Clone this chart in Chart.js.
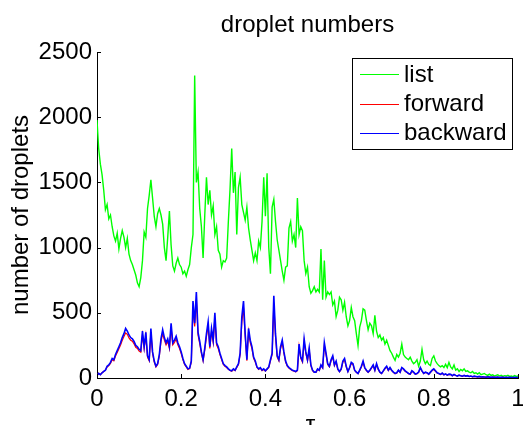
<!DOCTYPE html>
<html>
<head>
<meta charset="utf-8">
<script src="https://cdn.jsdelivr.net/npm/chart.js@4/dist/chart.umd.min.js"></script>
<style>
  html, body { margin: 0; padding: 0; background: #fff; }
  #wrap { width: 523px; height: 425px; }
</style>
</head>
<body>
<div id="wrap"><canvas id="c" width="523" height="425"></canvas></div>
<script>
// Droplet counts sampled every 0.004 in tau (0 .. 1)
const listCounts = [
  1978,1760,1640,1560,1440,1290,1330,1220,1250,1160,1090,
  1050,1110,990,1070,1130,1080,1000,1070,950,900,
  870,830,790,730,700,770,900,1120,1080,1300,
  1400,1520,1380,1240,1160,1260,1300,1250,1180,1000,
  900,1080,1280,1020,860,820,880,920,870,850,
  800,820,780,830,870,1000,1100,2320,1500,1580,
  1300,1160,920,1250,1540,1330,1440,1250,1320,1100,
  1160,980,950,850,900,890,920,1200,1450,1760,
  1420,1580,1100,1460,1540,1330,1270,1210,1310,1150,
  1060,980,900,960,900,1050,1000,1200,1540,1240,
  1570,1000,800,1310,1370,1200,1060,980,900,820,
  750,850,860,1150,1200,1050,1100,1000,1380,1100,
  1160,1130,900,800,850,700,650,670,700,660,
  680,660,990,600,900,620,660,640,660,560,
  590,470,520,620,600,520,580,470,400,440,
  540,470,440,340,250,390,440,530,520,440,
  370,420,400,340,480,360,310,330,290,310,
  260,290,250,210,190,160,135,180,160,190,
  260,180,160,150,140,160,130,110,120,140,
  90,130,220,140,110,130,105,95,150,170,
  130,110,95,85,95,80,105,80,120,85,
  70,100,60,70,50,65,55,70,50,55,
  45,40,50,35,40,30,40,25,30,35,
  25,20,30,20,25,15,20,25,15,20,
  12,18,15,20,12,15,10,18,12,15
];

const forwardCounts = [
  20,35,25,40,50,60,85,95,112,140,132,
  168,196,224,252,290,318,345,335,308,290,
  282,262,235,226,206,198,330,225,325,160,
  132,350,188,122,85,104,168,280,340,290,
  254,282,226,385,254,272,300,254,226,188,
  141,104,85,66,72,122,540,395,600,330,
  264,188,132,216,318,400,226,355,272,460,
  254,226,180,141,104,90,80,66,57,52,
  66,57,80,104,180,430,540,318,132,355,
  272,226,150,122,80,66,76,57,66,52,
  66,80,132,180,570,318,160,132,226,272,
  188,122,90,76,66,57,52,48,57,240,
  150,122,280,188,132,216,95,57,43,43,
  66,57,95,76,250,180,104,85,132,160,
  95,122,66,48,66,122,140,85,48,76,
  112,104,57,43,33,57,85,122,76,57,
  43,57,76,95,57,104,66,43,33,52,
  71,85,57,76,57,43,33,38,57,43,
  76,66,52,43,33,28,52,43,28,33,
  43,76,52,33,43,38,28,43,57,66,
  52,38,33,26,36,24,30,21,28,26,
  17,26,19,14,21,17,13,19,14,17,
  11,14,9,13,11,8,11,7,9,7,
  6,8,6,5,7,5,5,6,4,5,
  5,4,5,3,5,4,3,4,3,4
];

const backwardCounts = [
  20,35,25,40,50,60,90,100,120,150,140,
  180,210,240,270,310,340,380,360,330,310,
  300,280,250,240,220,210,360,240,350,170,
  140,380,200,130,90,110,180,300,370,310,
  270,300,240,420,270,290,320,270,240,200,
  150,110,90,70,75,130,590,420,660,350,
  280,200,140,230,340,430,240,380,290,500,
  270,240,190,150,110,95,85,70,60,55,
  70,60,85,110,190,470,590,340,140,380,
  290,240,160,130,85,70,80,60,70,55,
  70,85,140,190,630,340,170,140,240,290,
  200,130,95,80,70,60,55,50,60,260,
  160,130,300,200,140,230,100,60,45,45,
  70,60,100,80,270,190,110,90,140,170,
  100,130,70,50,70,130,150,90,50,80,
  120,110,60,45,35,60,90,130,80,60,
  45,60,80,100,60,110,70,45,35,55,
  75,90,60,80,60,45,35,40,60,45,
  80,70,55,45,35,30,55,45,30,35,
  45,80,55,35,45,40,30,45,60,70,
  55,40,35,28,38,25,32,22,30,28,
  18,28,20,15,22,18,14,20,15,18,
  12,15,10,14,12,9,12,8,10,8,
  6,9,7,5,8,6,5,7,4,6,
  5,4,6,3,5,4,3,5,3,4
];

const seriesNames = ['list', 'forward', 'backward'];
const seriesColors = ['#00ff00', '#ff0000', '#0000ff'];
const xTicks = [0, 0.2, 0.4, 0.6, 0.8, 1];
const xTickLabels = ['0', '0.2', '0.4', '0.6', '0.8', '1'];
const yTicks = [0, 500, 1000, 1500, 2000, 2500];
const yTickLabels = ['0', '500', '1000', '1500', '2000', '2500'];

const tau = listCounts.map((_, i) => +(i * 0.004).toFixed(3));
const toPoints = arr => arr.map((v, i) => ({ x: tau[i], y: v }));

const FONT = '"Liberation Sans", Arial, sans-serif';

// axis labels, title, inward tick marks and the boxed legend
const decorations = {
  id: 'decorations',
  afterDraw(chart) {
    const ctx = chart.ctx;
    const area = chart.chartArea;
    const xs = chart.scales.x, ys = chart.scales.y;
    ctx.save();
    // inward ticks
    ctx.strokeStyle = '#000';
    ctx.lineWidth = 1;
    ctx.beginPath();
    xTicks.forEach(t => {
      const px = Math.round(xs.getPixelForValue(t)) + 0.5;
      ctx.moveTo(px, area.bottom);
      ctx.lineTo(px, area.bottom - 4);
    });
    yTicks.forEach(t => {
      const py = Math.round(ys.getPixelForValue(t)) + 0.5;
      ctx.moveTo(area.left, py);
      ctx.lineTo(area.left + 4, py);
    });
    ctx.stroke();

    ctx.fillStyle = '#000';
    // title
    ctx.font = '24px ' + FONT;
    ctx.textAlign = 'center';
    ctx.textBaseline = 'alphabetic';
    ctx.fillText('droplet numbers', (area.left + area.right) / 2, 32);
    // x label
    ctx.textBaseline = 'top';
    ctx.fillText('τ', (area.left + area.right) / 2 + 3, 413);
    // y label
    ctx.save();
    ctx.translate(21, (area.top + area.bottom) / 2);
    ctx.rotate(-Math.PI / 2);
    ctx.textBaseline = 'middle';
    ctx.fillText('number of droplets', 0, 0);
    ctx.restore();

    // legend
    const bx = 352, by = 58, bw = 160, bh = 91;
    ctx.fillStyle = '#fff';
    ctx.fillRect(bx, by, bw, bh);
    ctx.strokeStyle = '#000';
    ctx.lineWidth = 1;
    ctx.strokeRect(bx + 0.5, by + 0.5, bw, bh);
    const rows = [74, 103.5, 132.5];
    ctx.font = '24px ' + FONT;
    ctx.textAlign = 'left';
    ctx.textBaseline = 'middle';
    seriesNames.forEach((name, i) => {
      ctx.strokeStyle = seriesColors[i];
      ctx.beginPath();
      ctx.moveTo(360, Math.round(rows[i]) + 0.5);
      ctx.lineTo(399, Math.round(rows[i]) + 0.5);
      ctx.stroke();
      ctx.fillStyle = '#000';
      ctx.fillText(name, 404, rows[i] + 1);
    });
    ctx.restore();
  }
};

const seriesData = [listCounts, forwardCounts, backwardCounts];
const lineWidths = [1.4, 1.2, 1.6];

new Chart(document.getElementById('c'), {
  type: 'line',
  data: {
    datasets: seriesNames.map((name, i) => ({
      label: name,
      data: toPoints(seriesData[i]),
      borderColor: seriesColors[i],
      backgroundColor: seriesColors[i],
      borderWidth: lineWidths[i],
      pointRadius: 0,
      tension: 0,
      fill: false,
      order: 3 - i
    }))
  },
  options: {
    responsive: false,
    animation: false,
    devicePixelRatio: 1,
    layout: { padding: { top: 52, right: 5, left: 0, bottom: 0 } },
    plugins: { legend: { display: false }, title: { display: false }, tooltip: { enabled: false } },
    scales: {
      x: {
        type: 'linear',
        min: 0, max: 1,
        grid: { display: false, drawTicks: false },
        border: { display: true, color: '#000', width: 1 },
        afterBuildTicks: s => { s.ticks = xTicks.map(v => ({ value: v })); },
        ticks: {
          autoSkip: false, maxRotation: 0, padding: 7, color: '#000',
          font: { size: 24, family: FONT },
          callback: v => xTickLabels[xTicks.indexOf(+v.toFixed(1))] ?? ''
        },
        afterFit: s => { s.height = 47; s.paddingLeft = 0; s.paddingRight = 0; }
      },
      y: {
        type: 'linear',
        min: 0, max: 2500,
        grid: { display: false, drawTicks: false },
        border: { display: true, color: '#000', width: 1 },
        afterBuildTicks: s => { s.ticks = yTicks.map(v => ({ value: v })); },
        ticks: {
          padding: 5, color: '#000',
          font: { size: 24, family: FONT },
          callback: v => yTickLabels[yTicks.indexOf(v)] ?? ''
        },
        afterFit: s => { s.width = 97; s.paddingTop = 0; s.paddingBottom = 0; }
      }
    }
  },
  plugins: [decorations]
});
</script>
</body>
</html>
